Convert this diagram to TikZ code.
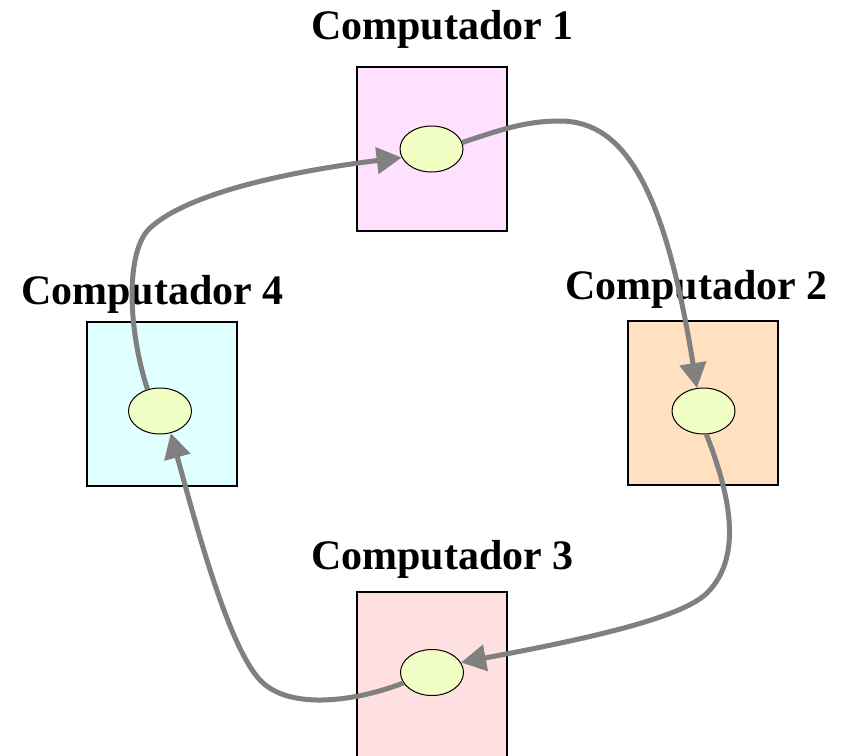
\documentclass[tikz,border=0pt]{standalone}
\usepackage{fontspec}
\setmainfont{Liberation Serif}
\usetikzlibrary{shapes.geometric,arrows.meta}
\definecolor{boxA}{RGB}{255,224,255}
\definecolor{boxB}{RGB}{255,224,192}
\definecolor{boxC}{RGB}{255,224,224}
\definecolor{boxD}{RGB}{224,255,255}
\definecolor{procfill}{RGB}{242,255,196}
\definecolor{flowgray}{RGB}{128,128,128}
\begin{document}
\begin{tikzpicture}[x=1pt,y=-1pt,
  lbl/.style={font=\fontsize{42}{48}\selectfont\bfseries, anchor=base, inner sep=0},
  compbox/.style={draw=black, line width=2pt, minimum width=150pt, minimum height=164pt, inner sep=0, anchor=north west},
  proc/.style={ellipse, draw=black, line width=1pt, fill=procfill, minimum width=63pt, minimum height=46pt, inner sep=0},
  flow/.style={draw=flowgray, line width=5pt, -{Triangle[length=25pt,width=26pt]}}]
\useasboundingbox (0,0) rectangle (848,755);
\clip (0,0) rectangle (848,755);
\fill[white] (0,0) rectangle (848,755);
% labels
\node[lbl] (l1) at (442.5,39) {Computador 1};
\node[lbl] (l2) at (696.5,299) {Computador 2};
\node[lbl] (l3) at (442.5,569) {Computador 3};
\node[lbl] (l4) at (152.5,304) {Computador 4};
% boxes
\node[compbox, fill=boxA] (b1) at (356,66) {};
\node[compbox, fill=boxB] (b2) at (627,320) {};
\node[compbox, fill=boxC, minimum height=180pt] (b3) at (356,591) {};
\node[compbox, fill=boxD] (b4) at (86,321) {};
% processes
\node[proc] (e1) at (431.5,149) {};
\node[proc] (e2) at (703.5,411) {};
\node[proc] (e3) at (432,672.5) {};
\node[proc] (e4) at (160,411) {};
% waypoints
\coordinate (c1) at (560,121);
\coordinate (c2) at (707,593);
\coordinate (c3) at (260,680);
\coordinate (c4) at (150,228);
% arrows
\draw[flow] (e1.12) .. controls (500,130) and (525,121) .. (c1)
  .. controls (625,121) and (665,190) .. (e2.106);
\draw[flow] (e2.-83) .. controls (728,490) and (745,555) .. (c2)
  .. controls (680,620) and (570,642) .. (e3.19);
\draw[flow] (e3.200) .. controls (360,700) and (290,712) .. (c3)
  .. controls (230,648) and (200,540) .. (e4.-64);
\draw[flow] (e4.120) .. controls (128,330) and (125,251) .. (c4)
  .. controls (190,191) and (300,170) .. (e1.196);
\end{tikzpicture}
\end{document}
